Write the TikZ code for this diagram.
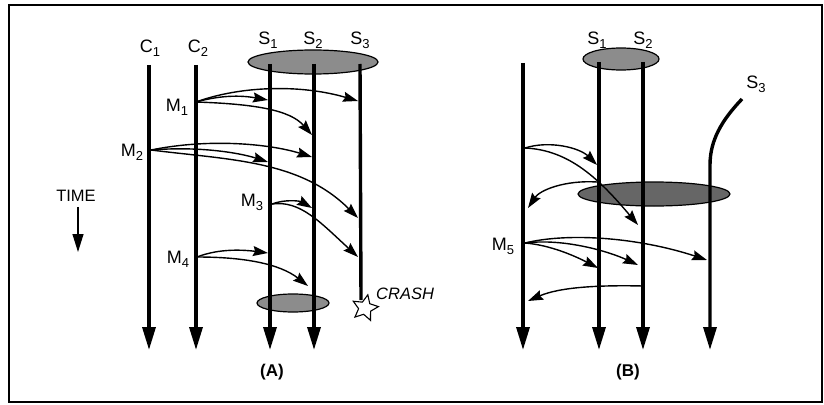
\documentclass[tikz,border=0pt]{standalone}
\usepackage{fontspec}
\setmainfont{Liberation Sans}
\usetikzlibrary{arrows.meta,shapes.geometric}
\newcommand\lbl[2]{#1\raisebox{-0.4ex}{\fontsize{13}{13}\selectfont #2}}
\tikzset{
  proc/.style={line width=3.4pt,-{Triangle[length=23pt,width=13pt]}},
  procnt/.style={line width=3.4pt},
  msg/.style={line width=1.4pt,-{Stealth[length=15pt,width=10pt,inset=2pt]}},
  lab/.style={font=\fontsize{18}{20}\selectfont,inner sep=0pt},
  grp/.style={draw=black,line width=1.2pt,fill=black!45},
  grpdark/.style={draw=black,line width=1.2pt,fill=black!60},
}
\begin{document}
\begin{tikzpicture}[x=1pt,y=-1pt]
\useasboundingbox (0,0) rectangle (824,404);
% frame
\draw[line width=1.4pt] (9,5) -- (822,5) -- (822,402) -- (9,402) -- cycle;

% ===== Panel A =====
\fill[grp] (313,62) ellipse [x radius=65,y radius=12];
\fill[grp] (293,303) ellipse [x radius=36,y radius=9];

\coordinate (c1t) at (149,65);  \coordinate (c1b) at (149,350);
\coordinate (c2t) at (196,65);  \coordinate (c2b) at (196,350);
\coordinate (s1t) at (270,64);  \coordinate (s1b) at (270,350);
\coordinate (s2t) at (314,64);  \coordinate (s2b) at (314,350);
\coordinate (s3t) at (360,64);  \coordinate (s3b) at (361,300);
\draw[proc] (c1t) -- (c1b);
\draw[proc] (c2t) -- (c2b);
\draw[proc] (s1t) -- (s1b);
\draw[proc] (s2t) -- (s2b);
\draw[procnt] (s3t) -- (s3b);
\node[draw,fill=white,star,star points=5,star point ratio=2.1,minimum size=27pt,inner sep=0pt,line width=1.1pt,rotate=-12] (crash) at (365,308) {};
\node[lab,font=\fontsize{16.5}{18}\selectfont\itshape,anchor=west] (crashlbl) at (376,294) {CRASH};

\node[lab] (C1) at (150,48) {\lbl{C}{1}};
\node[lab] (C2) at (198,48) {\lbl{C}{2}};
\node[lab] (S1) at (268,40) {\lbl{S}{1}};
\node[lab] (S2) at (313,40) {\lbl{S}{2}};
\node[lab] (S3) at (360,40) {\lbl{S}{3}};

% M1
\coordinate (m1) at (196,102);
\coordinate (m1a) at (268,100);
\coordinate (m1b) at (358,101);
\coordinate (m1c) at (312,135);
\draw[msg] (m1) .. controls (225,94) and (245,96) .. (m1a);
\draw[msg] (m1) .. controls (240,86) and (300,84) .. (m1b);
\draw[msg] (m1) .. controls (255,104) and (290,110) .. (m1c);
\node[lab] (M1) at (177,107) {\lbl{M}{1}};
% M2
\coordinate (m2) at (151,150);
\coordinate (m2a) at (268,162);
\coordinate (m2b) at (312,157);
\coordinate (m2c) at (358,218);
\draw[msg] (m2) .. controls (200,146) and (240,153) .. (m2a);
\draw[msg] (m2) .. controls (210,138) and (270,144) .. (m2b);
\draw[msg] (m2) .. controls (230,160) and (300,160) .. (m2c);
\node[lab] (M2) at (132,152) {\lbl{M}{2}};
% M3
\coordinate (m3) at (272,204);
\coordinate (m3a) at (312,208);
\coordinate (m3b) at (358,257);
\draw[msg] (m3) .. controls (285,199) and (300,201) .. (m3a);
\draw[msg] (m3) .. controls (300,200) and (320,222) .. (m3b);
\node[lab] (M3) at (252,202) {\lbl{M}{3}};
% M4
\coordinate (m4) at (197,257);
\coordinate (m4a) at (268,253);
\coordinate (m4b) at (308,286);
\draw[msg] (m4) .. controls (220,248) and (245,250) .. (m4a);
\draw[msg] (m4) .. controls (245,257) and (280,264) .. (m4b);
\node[lab] (M4) at (178,259) {\lbl{M}{4}};

% time arrow
\node[lab,font=\fontsize{16.5}{18}\selectfont] (time) at (76,196) {TIME};
\coordinate (tb) at (78,252);
\draw[line width=1.2pt,-{Triangle[length=18pt,width=11pt]}] (time.south -| tb) ++(0,5) -- (tb);

\node[lab,font=\fontsize{17}{19}\selectfont\bfseries] (A) at (272,372) {(A)};

% ===== Panel B =====
\fill[grp] (621,59) ellipse [x radius=38,y radius=11];
\fill[grpdark] (654,194) ellipse [x radius=76,y radius=12];

\coordinate (bct) at (523,63);  \coordinate (bcb) at (523,350);
\coordinate (bs1t) at (599,62); \coordinate (bs1b) at (599,350);
\coordinate (bs2t) at (643,62); \coordinate (bs2b) at (643,350);
\coordinate (bs3t) at (742,99); \coordinate (bs3m) at (710,165); \coordinate (bs3b) at (710,350);
\draw[proc] (bct) -- (bcb);
\draw[proc] (bs1t) -- (bs1b);
\draw[proc] (bs2t) -- (bs2b);
\draw[proc] (bs3t) .. controls (722,120) and (710,140) .. (bs3m) -- (bs3b);

\node[lab] (BS1) at (597,40) {\lbl{S}{1}};
\node[lab] (BS2) at (643,40) {\lbl{S}{2}};
\node[lab] (BS3) at (756,84) {\lbl{S}{3}};

\coordinate (b0) at (525,148);
\coordinate (b0a) at (597,165);
\coordinate (b0b) at (638,225);
\coordinate (b1) at (597,182);
\coordinate (b1a) at (528,208);
\draw[msg] (b0) .. controls (550,140) and (580,148) .. (b0a);
\draw[msg] (b0) .. controls (570,150) and (600,180) .. (b0b);
\draw[msg] (b1) .. controls (565,180) and (540,190) .. (b1a);

\coordinate (m5) at (525,243);
\coordinate (m5a) at (598,268);
\coordinate (m5b) at (638,265);
\coordinate (m5c) at (707,260);
\coordinate (b2) at (643,286);
\coordinate (b2a) at (528,301);
\draw[msg] (m5) .. controls (550,245) and (575,256) .. (m5a);
\draw[msg] (m5) .. controls (565,238) and (610,252) .. (m5b);
\draw[msg] (m5) .. controls (570,232) and (640,238) .. (m5c);
\draw[msg] (b2) .. controls (600,285) and (560,287) .. (b2a);
\node[lab] (M5) at (503,246) {\lbl{M}{5}};

\node[lab,font=\fontsize{17}{19}\selectfont\bfseries] (B) at (628,372) {(B)};
\end{tikzpicture}
\end{document}
